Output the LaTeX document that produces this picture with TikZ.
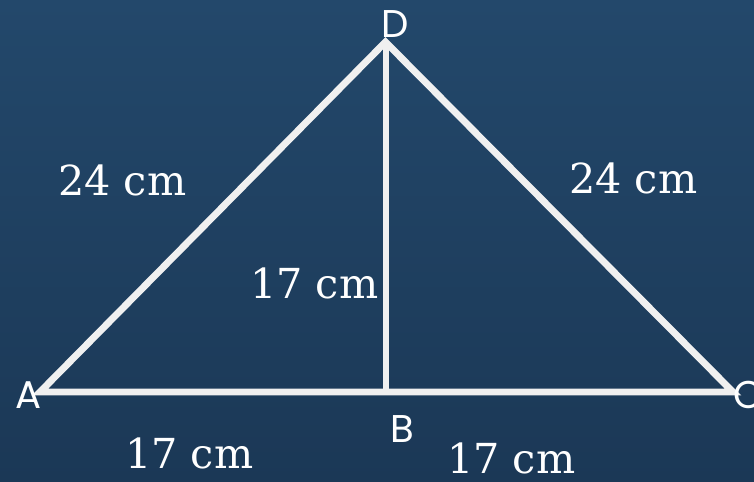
\documentclass[tikz,border=0pt]{standalone}
\usepackage{fontspec}
\setmainfont{DejaVu Serif}
\newfontfamily\lettfont{Poppins}
\definecolor{bgtop}{RGB}{35,72,107}
\definecolor{bgbot}{RGB}{27,56,86}
\definecolor{linew}{RGB}{240,240,240}
\begin{document}
\begin{tikzpicture}[x=0.75pt,y=-0.75pt,
  edge/.style={draw=linew,line width=5.2pt,line join=miter},
  vlabel/.style={text=white,font=\lettfont\fontsize{29pt}{30pt}\selectfont,inner sep=0pt,anchor=base west},
  mlabel/.style={text=white,font=\fontsize{31pt}{32pt}\selectfont,inner sep=0pt,anchor=base west}]
\useasboundingbox (0,0) rectangle (754,482);
\shade[top color=bgtop,bottom color=bgbot] (0,0) rectangle (754,482);
\coordinate (A) at (40,392);
\coordinate (B) at (385.5,392);
\coordinate (C) at (733,392);
\coordinate (D) at (385.5,42);
\draw[edge] (A) -- (D) -- (C) -- cycle;
\draw[edge,line width=4.5pt] (D) -- (B);
\node[vlabel] (lD) at (381,37) {D};
\node[vlabel] (lA) at (15,408) {A};
\node[vlabel] (lB) at (390,442) {B};
\node[vlabel] (lC) at (733,408) {C};
\node[mlabel] (m1) at (58,195) {24 cm};
\node[mlabel] (m2) at (569,193) {24 cm};
\node[mlabel] (m3) at (250,298) {17 cm};
\node[mlabel] (m4) at (125,468) {17 cm};
\node[mlabel] (m5) at (447,473) {17 cm};
\end{tikzpicture}
\end{document}
